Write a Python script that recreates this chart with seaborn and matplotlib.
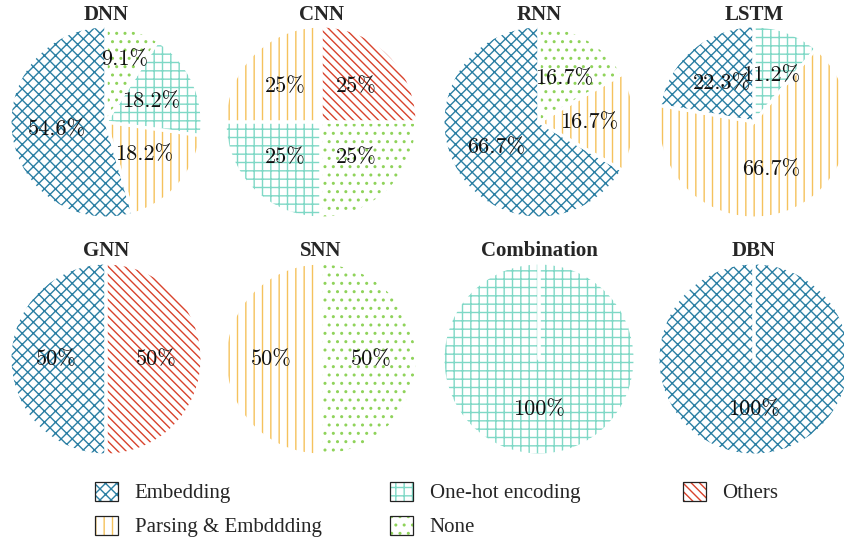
import matplotlib
matplotlib.use("Agg")
import matplotlib.pyplot as plt
import seaborn as sns
from matplotlib.patches import Patch
from matplotlib.legend_handler import HandlerTuple

sns.set_theme(style="white")
plt.rcParams["font.family"] = ["Liberation Serif", "DejaVu Serif"]
plt.rcParams["hatch.linewidth"] = 1.0

# ---- data ----
models = ["DNN", "CNN", "RNN", "LSTM", "GNN", "SNN", "Combination", "DBN"]
categories = ["Embedding", "Parsing & Embddding", "One-hot encoding", "None", "Others"]
embedding = [54.6, 0, 66.7, 22.3, 50, 0, 0, 100]
parsing = [18.2, 25, 16.7, 66.7, 0, 50, 0, 0]
onehot = [18.2, 25, 0, 11.2, 0, 0, 100, 0]
none = [9.1, 25, 16.7, 0, 0, 50, 0, 0]
others = [0, 25, 0, 0, 50, 0, 0, 0]

# ---- styles ----
BS = chr(92)
colors = ["#2b7fa3", "#f5c25c", "#7fd8c6", "#8fd35a", "#d8432c"]
hatches = ["xxx", "||", "++", "..", BS * 4]

W, H = 844, 539
fig = plt.figure(figsize=(W / 100, H / 100), dpi=100)

col_x = [106, 321, 539, 754]
row_y = [122, 359]
title_y = [15, 251]
R = 96

series = [embedding, parsing, onehot, none, others]

for i, model in enumerate(models):
    r, c = divmod(i, 4)
    cx, cy = col_x[c], row_y[r]
    ax = fig.add_axes([(cx - R) / W, 1 - (cy + R) / H, 2 * R / W, 2 * R / H])
    vals, cols, hts = [], [], []
    for k in range(len(categories)):
        v = series[k][i]
        if v > 0:
            vals.append(v)
            cols.append(colors[k])
            hts.append(hatches[k])
    labels = [f"{v:g}%" for v in vals]
    it = iter(labels)
    wedges, texts, autotexts = ax.pie(
        vals, startangle=90, counterclock=True, radius=1.0,
        autopct=lambda p: next(it), pctdistance=0.52,
        wedgeprops=dict(linewidth=0),
        textprops=dict(fontsize=16, family="cmr10", color="#111111"),
    )
    for w, col, h in zip(wedges, cols, hts):
        w.set_facecolor("white")
        w.set_edgecolor(col)
        w.set_hatch(h)
        w.set_linewidth(0)
        w.set_clip_on(False)
    for t, v in zip(autotexts, vals):
        if v < 10:
            x, y = t.get_position()
            t.set_position((x * 0.68 / 0.52, y * 0.68 / 0.52))
        t.set_zorder(5)
    # white separators
    sep, _ = ax.pie(vals, startangle=90, counterclock=True, radius=1.0,
                    wedgeprops=dict(fill=False, edgecolor="white", linewidth=2.2))
    for s in sep:
        s.set_clip_on(False)
    if len(vals) == 1:
        ax.plot([0, 0], [0, 1], color="white", lw=2.6, zorder=3, clip_on=False)
    ax.set_xlim(-1, 1)
    ax.set_ylim(-1, 1)
    ax.set_aspect("equal")
    ax.axis("off")
    fig.text(cx / W, 1 - title_y[r] / H, model, ha="center", va="center",
             fontsize=15, fontweight="bold")

# ---- legend ----
def handle(k):
    return (Patch(facecolor="white", edgecolor=colors[k], hatch=hatches[k], linewidth=0),
            Patch(fill=False, edgecolor="#222222", linewidth=0.9))

groups = [([0, 1], 95), ([2, 3], 390), ([4], 683)]
for idx, x in groups:
    fig.legend([handle(k) for k in idx], [categories[k] for k in idx],
               handler_map={tuple: HandlerTuple(ndivide=1, pad=0)},
               loc="upper left", bbox_to_anchor=(x / W, 1 - 482 / H),
               frameon=False, fontsize=15, borderpad=0, borderaxespad=0,
               handlelength=1.1, handleheight=1.0, handletextpad=0.8,
               labelspacing=0.6)

fig.savefig("out.png", dpi=100)
